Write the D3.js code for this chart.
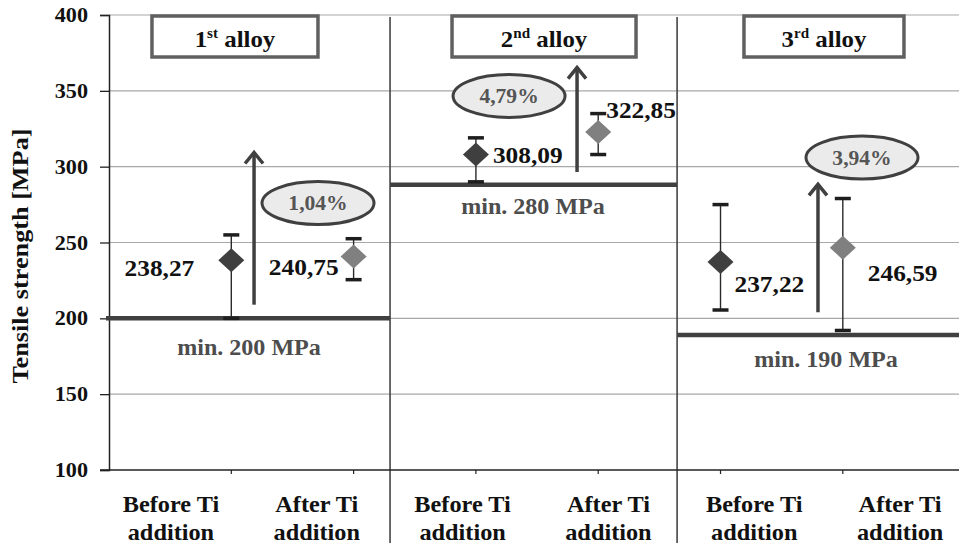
<!DOCTYPE html>
<html><head><meta charset="utf-8">
<script src="https://cdn.jsdelivr.net/npm/d3@7/dist/d3.min.js"></script>
<style>
html,body{margin:0;padding:0;background:#fff;}
svg{display:block;}
svg text{font-family:'Liberation Serif',Tinos,'Times New Roman',Times,serif;font-weight:700;}
</style></head>
<body>
<svg id="chart" width="959" height="548"></svg>
<script>
// ---------- data ----------
const alloys = ["1", "2", "3"];
const alloySup = ["st", "nd", "rd"];
const categories = ["Before Ti addition", "After Ti addition", "Before Ti addition", "After Ti addition", "Before Ti addition", "After Ti addition"];
const values = [238.27, 240.75, 308.09, 322.85, 237.22, 246.59];
const valueLabels = ["238,27", "240,75", "308,09", "322,85", "237,22", "246,59"];
const errHigh = [255, 252.5, 319, 335, 275, 279];
const errLow = [200, 225.5, 290, 308, 205.5, 192];
const minStrength = [200, 288, 189];
const minLabels = ["min. 200 MPa", "min. 280 MPa", "min. 190 MPa"];
const increases = ["1,04%", "4,79%", "3,94%"];
const yTicks = [100, 150, 200, 250, 300, 350, 400];

// annotation anchors (category-index units, MPa)
const sectionBounds = [-1, 1.298, 3.645, 5.95];
const arrowX = [0.186, 2.827, 4.797];
const arrowFrom = [209, 296.5, 204];
const arrowTo = [310, 366, 289];
const ellipseX = [0.709, 2.271, 5.157];
const ellipseY = [276, 346.6, 306];
const titleX = [0.030, 2.557, 4.846];

// ---------- layout ----------
const FONT = "'Liberation Serif', Tinos, 'Times New Roman', Times, serif";
const svg = d3.select("#chart");
const x = d3.scaleLinear().domain([-1, 5.95]).range([109, 959]);
const y = d3.scaleLinear().domain([100, 400]).range([470, 15]);
const labelBand = d3.scaleBand().domain(d3.range(6)).range([98, 973]);
const SX = 1.08;

function txt(g, px, py, str, size, anchor, fill) {
  return g.append("text")
    .attr("transform", `translate(${px},${py}) scale(${SX},1)`)
    .attr("text-anchor", anchor || "middle")
    .attr("font-family", FONT).attr("font-weight", "bold")
    .attr("font-size", size)
    .attr("fill", fill || "#111")
    .text(str);
}

// gridlines
svg.append("g").selectAll("line").data(yTicks.filter(d => d > 100)).join("line")
  .attr("x1", x(-1)).attr("x2", 959)
  .attr("y1", d => y(d)).attr("y2", d => y(d))
  .attr("stroke", "#a8a8a8").attr("stroke-width", 1.2);

// section separators
svg.append("g").selectAll("line").data(sectionBounds.slice(1, 3)).join("line")
  .attr("x1", d => x(d)).attr("x2", d => x(d))
  .attr("y1", y(398.7)).attr("y2", 543)
  .attr("stroke", "#454545").attr("stroke-width", 1.6);

// y axis
const yAxis = d3.axisLeft(y).tickValues(yTicks).tickSize(9).tickFormat(d3.format("d"));
const ya = svg.append("g").attr("transform", `translate(${x(-1)},0)`).call(yAxis);
ya.select(".domain").attr("stroke", "#222").attr("stroke-width", 1.5);
ya.selectAll(".tick line").attr("stroke", "#222").attr("stroke-width", 1.3);
ya.selectAll(".tick text").remove();
yTicks.forEach(t => txt(svg, 88, y(t) + 7, String(t), 20.5, "end", "#111"));

// x axis line + ticks
svg.append("line").attr("x1", 100).attr("x2", 959).attr("y1", y(100)).attr("y2", y(100))
  .attr("stroke", "#222").attr("stroke-width", 1.5);
svg.append("g").selectAll("line").data(d3.range(6)).join("line")
  .attr("x1", d => x(d)).attr("x2", d => x(d)).attr("y1", y(100)).attr("y2", y(100) + 4)
  .attr("stroke", "#222").attr("stroke-width", 1.2);

// category labels
categories.forEach((c, i) => {
  const cx = labelBand(i) + labelBand.bandwidth() / 2;
  const parts = c.split(" ");
  txt(svg, cx, 512, parts[0] + " " + parts[1], 22.5, "middle", "#111");
  txt(svg, cx, 540, parts[2], 22.5, "middle", "#111");
});

// axis title
svg.append("text")
  .attr("transform", `translate(28,256) rotate(-90)`)
  .attr("text-anchor", "middle").attr("font-size", 23)
  .attr("font-family", FONT).attr("font-weight", "bold")
  .attr("textLength", 255).attr("lengthAdjust", "spacingAndGlyphs")
  .attr("fill", "#111")
  .text("Tensile strength [MPa]");

// minimum lines
alloys.forEach((a, k) => {
  svg.append("line")
    .attr("x1", x(sectionBounds[k]) - (k === 0 ? 3 : 0)).attr("x2", x(sectionBounds[k + 1]))
    .attr("y1", y(minStrength[k])).attr("y2", y(minStrength[k]))
    .attr("stroke", "#404040").attr("stroke-width", 4.5);
});
const minLabelX = [249, 533, 826];
const minLabelDy = [37, 29, 32];
minLabels.forEach((m, k) => txt(svg, minLabelX[k], y(minStrength[k]) + minLabelDy[k], m, 22.3, "middle", "#4d4d4d"));

// arrows
const arrowG = svg.append("g").attr("stroke", "#404040").attr("stroke-width", 3.5).attr("fill", "none");
arrowX.forEach((ax, k) => {
  const px = x(ax), y0 = y(arrowFrom[k]), y1 = y(arrowTo[k]);
  arrowG.append("line").attr("x1", px).attr("x2", px).attr("y1", y0).attr("y2", y1 + 1);
  arrowG.append("path").attr("d", `M${px - 9},${y1 + 12} L${px},${y1 + 1} L${px + 9},${y1 + 12}`)
    .attr("stroke-linejoin", "miter");
});

// ellipses with increase %
increases.forEach((p, k) => {
  svg.append("ellipse").attr("cx", x(ellipseX[k])).attr("cy", y(ellipseY[k]))
    .attr("rx", 56).attr("ry", 21.5)
    .attr("fill", "#ebebeb").attr("stroke", "#404040").attr("stroke-width", 3);
  txt(svg, x(ellipseX[k]), y(ellipseY[k]) + 7, p, 20, "middle", "#555");
});

// error bars
const eg = svg.append("g");
values.forEach((v, i) => {
  const px = x(i);
  eg.append("line").attr("x1", px).attr("x2", px).attr("y1", y(errLow[i])).attr("y2", y(errHigh[i]))
    .attr("stroke", "#2a2a2a").attr("stroke-width", 1.4);
  [errLow[i], errHigh[i]].forEach(e => {
    eg.append("line").attr("x1", px - 8).attr("x2", px + 8).attr("y1", y(e)).attr("y2", y(e))
      .attr("stroke", "#1e1e1e").attr("stroke-width", 3.5);
  });
});

// diamonds
const diamondFill = ["#3f3f3f", "#808080"];
svg.append("g").selectAll("path").data(values).join("path")
  .attr("d", (v, i) => {
    const px = x(i), py = y(v);
    return `M${px},${py - 12} L${px + 13},${py} L${px},${py + 12} L${px - 13},${py} Z`;
  })
  .attr("fill", (v, i) => diamondFill[i % 2]);

// value labels
const vlDx = [-37, -15, 17, 8, 14, 25];
const vlDy = [16, 18, 9, -14, 30, 33];
const vlAnchor = ["end", "end", "start", "start", "start", "start"];
valueLabels.forEach((l, i) => txt(svg, x(i) + vlDx[i], y(values[i]) + vlDy[i], l, 23.5, vlAnchor[i], "#111"));

// title boxes
const boxW = [166, 184, 160];
alloys.forEach((a, k) => {
  const cx = x(titleX[k]);
  svg.append("rect").attr("x", cx - boxW[k] / 2).attr("y", y(400) + 1).attr("width", boxW[k]).attr("height", 41)
    .attr("fill", "#fff").attr("stroke", "#606060").attr("stroke-width", 3.5);
  const t = svg.append("text")
    .attr("transform", `translate(${cx},${y(400) + 32}) scale(${SX},1)`)
    .attr("text-anchor", "middle").attr("font-size", 23).attr("fill", "#111")
    .attr("font-family", FONT).attr("font-weight", "bold");
  t.append("tspan").text(a);
  t.append("tspan").attr("font-size", 14).attr("dy", -9).text(alloySup[k]);
  t.append("tspan").attr("dy", 9).text(" alloy");
});
</script>
</body></html>
